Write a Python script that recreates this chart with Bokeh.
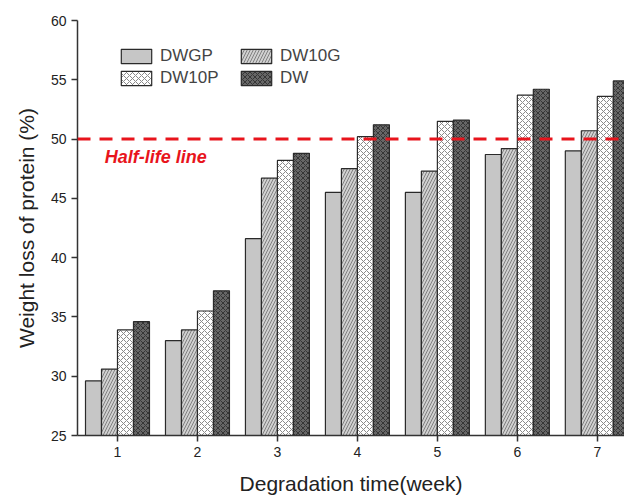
from bokeh.plotting import figure
from bokeh.models import ColumnDataSource, Span, Label, Legend, LegendItem, FixedTicker
from bokeh.transform import dodge
from bokeh.embed import file_html
from bokeh.resources import INLINE

weeks = [1, 2, 3, 4, 5, 6, 7]
dwgp = [29.6, 33.0, 41.6, 45.5, 45.5, 48.7, 49.0]
dw10g = [30.6, 33.9, 46.7, 47.5, 47.3, 49.2, 50.7]
dw10p = [33.9, 35.5, 48.2, 50.2, 51.5, 53.7, 53.6]
dw = [34.6, 37.2, 48.8, 51.2, 51.6, 54.2, 54.9]
series_names = ["DWGP", "DW10G", "DW10P", "DW"]
legend_order = ["DWGP", "DW10P", "DW10G", "DW"]
half_life = 50

src = ColumnDataSource(dict(week=weeks, DWGP=dwgp, DW10G=dw10g, DW10P=dw10p, DW=dw))

FONT = "Liberation Sans"
p = figure(width=624, height=497, x_range=(0.5, 7.34), y_range=(25, 60),
           output_backend="svg", toolbar_location=None,
           min_border_left=77, min_border_right=0, min_border_top=20, min_border_bottom=60)
p.outline_line_color = None
p.xgrid.grid_line_color = None
p.ygrid.grid_line_color = None

styles = {
    "DWGP": dict(fill_color="#c6c6c6"),
    "DW10G": dict(fill_color="#d0d0d0", hatch_pattern="/", hatch_color="#808080", hatch_scale=6, hatch_weight=1),
    "DW10P": dict(fill_color="#ffffff", hatch_pattern="x", hatch_color="#8a8a8a", hatch_scale=6, hatch_weight=1),
    "DW": dict(fill_color="#666666", hatch_pattern="x", hatch_color="#363636", hatch_scale=5, hatch_weight=1),
}
offsets = [-0.3, -0.1, 0.1, 0.3]
renderers = {}
for name, off in zip(series_names, offsets):
    r = p.vbar(x=dodge("week", off, range=p.x_range), top=name, bottom=25, width=0.2, source=src,
               line_color="#2a2a2a", line_width=1.2, **styles[name])
    renderers[name] = r

span = Span(location=half_life, dimension="width", line_color="#e8141c", line_width=3, line_dash="13 9")
p.add_layout(span)
p.add_layout(Label(x=0.84, y=48.5, text="Half-life line", text_color="#e8141c", text_font=FONT,
                   text_font_style="bold italic", text_font_size="18px", text_baseline="alphabetic"))

legend = Legend(items=[LegendItem(label=n, renderers=[renderers[n]]) for n in legend_order],
                ncols=2, location=(40, 347), border_line_color=None, background_fill_alpha=0,
                label_text_font=FONT, label_text_font_size="17px", glyph_width=38, glyph_height=18,
                label_standoff=5, spacing=2, padding=0, margin=0, label_height=18, label_width=75,
                label_text_line_height=1.0)
p.add_layout(legend)

for ax in (p.xaxis[0], p.yaxis[0]):
    ax.axis_line_width = 1.5
    ax.axis_line_color = "#333333"
    ax.major_tick_line_color = "#333333"
    ax.major_tick_line_width = 1.5
    ax.major_tick_out = 6
    ax.major_tick_in = 0
    ax.minor_tick_line_color = None
    ax.major_label_text_font = FONT
    ax.major_label_text_font_size = "14px"
    ax.major_label_text_color = "#222222"
    ax.axis_label_text_font = FONT
    ax.axis_label_text_font_size = "21px"
    ax.axis_label_text_font_style = "normal"
    ax.axis_label_text_color = "#222222"

p.xaxis.ticker = FixedTicker(ticks=weeks)
p.yaxis.ticker = FixedTicker(ticks=[25, 30, 35, 40, 45, 50, 55, 60])
p.xaxis.axis_label = "Degradation time(week)"
p.yaxis.axis_label = "Weight loss of protein (%)"
p.xaxis.axis_label_standoff = 12
p.yaxis.axis_label_standoff = 10

open("out.html", "w").write(file_html(p, INLINE))
